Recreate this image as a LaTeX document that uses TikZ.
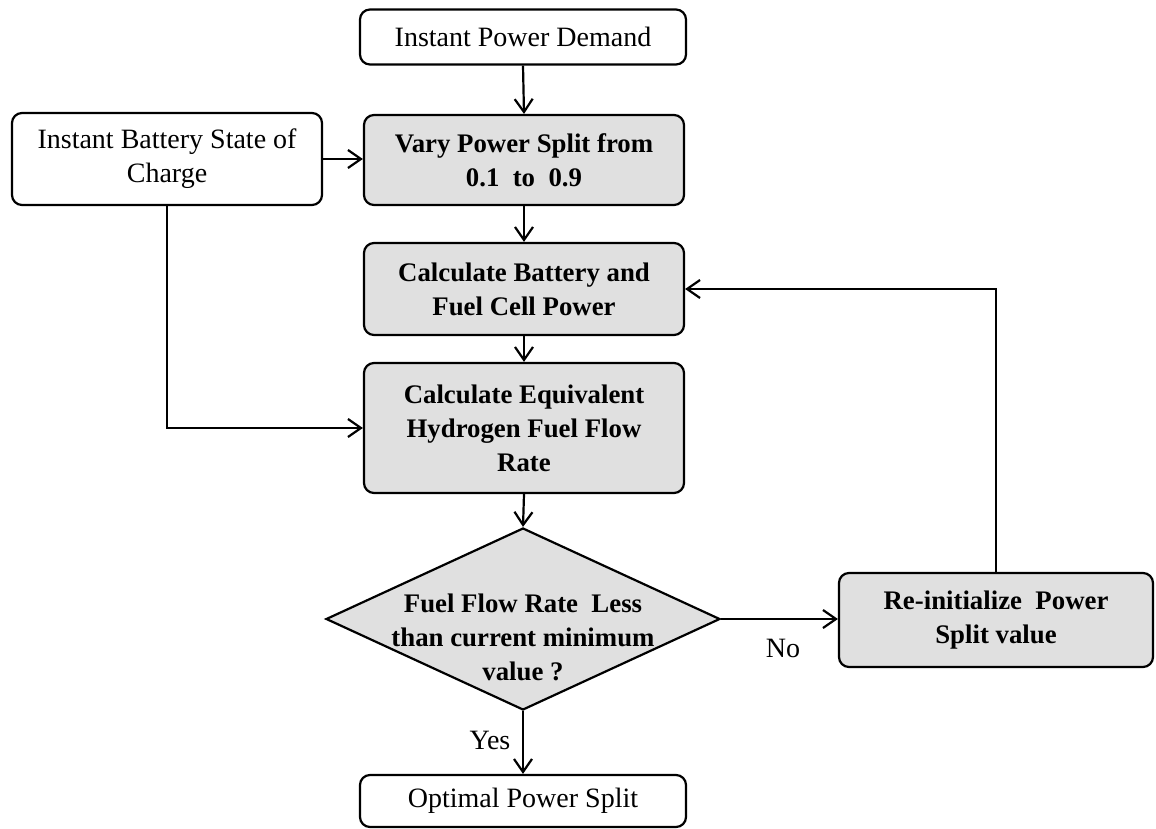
\documentclass[tikz,border=0pt]{standalone}
\usepackage{fontspec}
\setmainfont{Liberation Serif}
\usetikzlibrary{shapes.geometric,arrows.meta}
\begin{document}
\begin{tikzpicture}[x=0.5pt,y=-0.5pt,
  box/.style={draw, rounded corners=5pt, line width=1.1pt, align=center, inner sep=0pt, font=\fontsize{14}{17}\selectfont},
  gbox/.style={box, fill=black!12, font=\fontsize{13.4}{17}\selectfont\bfseries},
  arr/.style={line width=1.1pt, -{Straight Barb[length=6.5pt,width=9pt,line width=1.1pt]}},
  lbl/.style={font=\fontsize{14}{17}\selectfont, inner sep=0pt}]
\useasboundingbox (0,0) rectangle (1156,829);
\node[box, minimum width=163pt, minimum height=27.5pt] (ipd) at (523,37) {Instant Power Demand};
\node[box, minimum width=155pt, minimum height=46pt] (isoc) at (167,159) {Instant Battery State of\\Charge};
\node[gbox, minimum width=160pt, minimum height=45pt] (vary) at (524,160) {Vary Power Split from\\0.1\ \ to\ \ 0.9};
\node[gbox, minimum width=160pt, minimum height=46pt] (calc) at (524,289) {Calculate Battery and\\Fuel Cell Power};
\node[gbox, minimum width=160pt, minimum height=65pt] (ceh) at (524,428) {Calculate Equivalent\\Hydrogen Fuel Flow\\Rate};
\node[draw, diamond, fill=black!12, line width=1.1pt, minimum width=197pt, minimum height=91pt, inner sep=0pt] (dia) at (523,619) {};
\node[align=center, font=\fontsize{13.4}{17}\selectfont\bfseries, inner sep=0pt] (diat) at (523,637) {Fuel Flow Rate\ \ Less\\than current minimum\\value ?};
\node[gbox, minimum width=157pt, minimum height=47pt] (reinit) at (996,620) {Re-initialize\ \ Power\\Split value};
\node[box, minimum width=163pt, minimum height=26pt] (ops) at (523,801) {Optimal Power Split};
\draw[arr] (ipd.south) -- (vary.north);
\draw[arr] (isoc.east) -- (isoc.east -| vary.west);
\draw[arr] (vary.south) -- (calc.north);
\draw[arr] (calc.south) -- (ceh.north);
\draw[arr] (isoc.south) |- (ceh.west);
\draw[arr] (ceh.south) -- (dia.north);
\draw[arr] (dia.east) -- (dia.east -| reinit.west);
\draw[arr] (reinit.north) |- (calc.east);
\draw[arr] (dia.south) -- (ops.north);
\node[lbl] (no) at (783,648) {No};
\node[lbl] (yes) at (490,740) {Yes};
\end{tikzpicture}
\end{document}
